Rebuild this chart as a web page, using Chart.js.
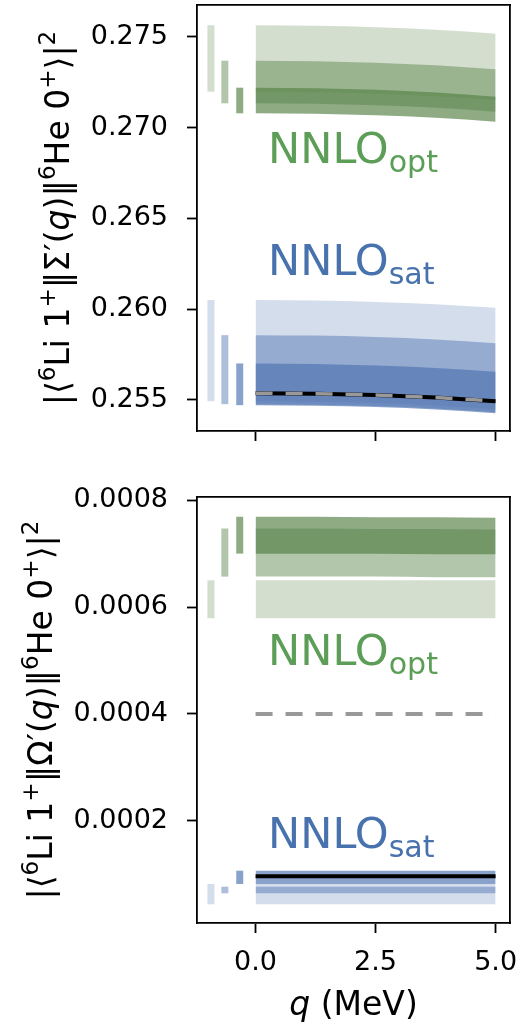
<!DOCTYPE html>
<html>
<head>
<meta charset="utf-8">
<script src="https://cdn.jsdelivr.net/npm/chart.js@4.4.0/dist/chart.umd.min.js"></script>
<style>
  html, body { margin: 0; padding: 0; background: #fff; }
  #wrap { position: relative; width: 517px; height: 1023px; }
  #topChart { position: absolute; left: 0; top: 0; }
  #bottomChart { position: absolute; left: 0; top: 480px; }
</style>
</head>
<body>
<div id="wrap">
  <canvas id="topChart" width="517" height="480"></canvas>
  <canvas id="bottomChart" width="517" height="543"></canvas>
</div>
<script>
// momentum transfer grid and the q=0 summary bars
const qGrid = [0, 1.25, 2.5, 3.75, 5];
const barQ = [-0.93, -0.64, -0.33];
const qTicks = [0, 2.5, 5];
const qTickLabels = ['0.0', '2.5', '5.0'];

// upper panel: Sigma'
const sigTicks = [0.255, 0.260, 0.265, 0.270, 0.275];
const sigTickLabels = ['0.255', '0.260', '0.265', '0.270', '0.275'];
const sigOptHi1 = [0.275645, 0.275617, 0.275535, 0.275397, 0.275182];
const sigOptLo1 = [0.271985, 0.271957, 0.271875, 0.271737, 0.271522];
const sigOptHi2 = [0.273693, 0.273665, 0.273579, 0.273437, 0.273219];
const sigOptLo2 = [0.271345, 0.271317, 0.271234, 0.271095, 0.270882];
const sigOptHi3 = [0.272205, 0.272175, 0.272086, 0.271937, 0.271709];
const sigOptLo3 = [0.270794, 0.270766, 0.270683, 0.270544, 0.270331];
const sigSatHi1 = [0.260502, 0.260477, 0.260400, 0.260273, 0.260078];
const sigSatLo1 = [0.254934, 0.254908, 0.254828, 0.254696, 0.254493];
const sigSatHi2 = [0.258571, 0.258545, 0.258465, 0.258333, 0.258131];
const sigSatLo2 = [0.254768, 0.254742, 0.254662, 0.254530, 0.254327];
const sigSatHi3 = [0.257012, 0.256984, 0.256901, 0.256762, 0.256549];
const sigSatLo3 = [0.254713, 0.254687, 0.254607, 0.254475, 0.254272];
const sigCentral = [0.255375, 0.255349, 0.255269, 0.255137, 0.254934];
const sigOptBarLo = [0.271985, 0.271345, 0.270794];
const sigOptBarHi = [0.275645, 0.273693, 0.272205];
const sigSatBarLo = [0.254934, 0.254768, 0.254713];
const sigSatBarHi = [0.260502, 0.258571, 0.257012];

// lower panel: Omega'
const omTicks = [0.0002, 0.0004, 0.0006, 0.0008];
const omTickLabels = ['0.0002', '0.0004', '0.0006', '0.0008'];
const omOptHi1 = [0.000650, 0.000650, 0.000650, 0.000650, 0.000650];
const omOptLo1 = [0.000579, 0.000579, 0.000579, 0.000579, 0.000579];
const omOptHi2 = [0.000747, 0.000747, 0.000746, 0.000746, 0.000745];
const omOptLo2 = [0.000657, 0.000657, 0.000657, 0.000656, 0.000656];
const omOptHi3 = [0.000769, 0.000769, 0.000768, 0.000768, 0.000767];
const omOptLo3 = [0.000700, 0.000700, 0.000700, 0.000699, 0.000699];
const omSatHi1 = [0.0000816, 0.0000816, 0.0000816, 0.0000816, 0.0000816];
const omSatLo1 = [0.0000436, 0.0000436, 0.0000436, 0.0000436, 0.0000436];
const omSatHi2 = [0.0000765, 0.0000765, 0.0000765, 0.0000765, 0.0000765];
const omSatLo2 = [0.0000642, 0.0000642, 0.0000642, 0.0000642, 0.0000642];
const omSatHi3 = [0.0001065, 0.0001065, 0.0001065, 0.0001065, 0.0001065];
const omSatLo3 = [0.0000816, 0.0000816, 0.0000816, 0.0000816, 0.0000816];
const omCentral = [0.0000960, 0.0000960, 0.0000960, 0.0000960, 0.0000960];
const omReference = [0.0004, 0.0004, 0.0004, 0.0004, 0.0004];
const omOptBarLo = [0.000579, 0.000657, 0.000700];
const omOptBarHi = [0.000650, 0.000747, 0.000769];
const omSatBarLo = [0.0000436, 0.0000642, 0.0000816];
const omSatBarHi = [0.0000816, 0.0000765, 0.0001065];

const FONT = 'DejaVu Sans';
const TICK_SIZE = 27;
const TITLE_SIZE = 33;
const greenShades = ['rgba(84,128,68,0.26)', 'rgba(84,128,68,0.45)', 'rgba(84,128,68,0.66)'];
const blueShades = ['rgba(76,114,176,0.24)', 'rgba(76,114,176,0.46)', 'rgba(76,114,176,0.66)'];
const greenText = 'rgb(92,158,87)';
const blueText = 'rgb(72,114,173)';

function pts(xs, ys) {
    return xs.map((x, i) => ({ x: x, y: ys[i] }));
}

function band(hi, lo, color) {
    return [
        { data: pts(qGrid, hi), fill: '+1', backgroundColor: color, borderColor: 'transparent',
          borderWidth: 0, pointRadius: 0, cubicInterpolationMode: 'monotone' },
        { data: pts(qGrid, lo), fill: false, borderColor: 'transparent',
          borderWidth: 0, pointRadius: 0, cubicInterpolationMode: 'monotone' }
    ];
}

function bars(lo, hi, colors) {
    return barQ.map((q, i) => ({
        data: [{ x: q, y: lo[i] }, { x: q, y: hi[i] }],
        borderColor: colors[i], borderWidth: 7, borderCapStyle: 'butt',
        pointRadius: 0, fill: false
    }));
}

function line(ys, color, width, dash) {
    return { data: pts(qGrid, ys), borderColor: color, borderWidth: width, borderDash: dash || [],
             borderCapStyle: 'butt', pointRadius: 0, fill: false };
}

// paint order: first in list is drawn first
function ordered(list) {
    list.forEach((d, i) => { d.order = list.length - i; });
    return list;
}

// rich text helpers (superscripts, subscripts, italics)
function segFont(seg, size) {
    const s = (seg.sup || seg.sub) ? size * 0.7 : size;
    return (seg.it ? 'italic ' : '') + s + 'px "' + FONT + '"';
}
function richWidth(ctx, segs, size) {
    let w = 0;
    segs.forEach(s => { ctx.font = segFont(s, size); w += ctx.measureText(s.t).width; });
    return w;
}
function drawRich(ctx, segs, x, y, size) {
    segs.forEach(s => {
        ctx.font = segFont(s, size);
        const dy = s.sup ? -size * 0.42 : (s.sub ? size * 0.2 : 0);
        ctx.fillText(s.t, x, y + dy);
        x += ctx.measureText(s.t).width;
    });
}

const sigmaTitle = [{ t: '|⟨' }, { t: '6', sup: 1 }, { t: 'Li 1' }, { t: '+', sup: 1 }, { t: '‖Σ′(' },
    { t: 'q', it: 1 }, { t: ')‖' }, { t: '6', sup: 1 }, { t: 'He 0' }, { t: '+', sup: 1 }, { t: '⟩|' }, { t: '2', sup: 1 }];
const omegaTitle = [{ t: '|⟨' }, { t: '6', sup: 1 }, { t: 'Li 1' }, { t: '+', sup: 1 }, { t: '‖Ω′(' },
    { t: 'q', it: 1 }, { t: ')‖' }, { t: '6', sup: 1 }, { t: 'He 0' }, { t: '+', sup: 1 }, { t: '⟩|' }, { t: '2', sup: 1 }];
const qTitle = [{ t: 'q', it: 1 }, { t: ' (MeV)' }];

const textPlugin = {
    id: 'texts',
    afterDraw(chart, args, opts) {
        const ctx = chart.ctx;
        const area = chart.chartArea;
        ctx.save();
        ctx.textBaseline = 'alphabetic';
        ctx.textAlign = 'left';
        // y axis title, rotated
        ctx.fillStyle = '#000';
        ctx.save();
        ctx.translate(opts.yTitleX, (area.top + area.bottom) / 2);
        ctx.rotate(-Math.PI / 2);
        const w = richWidth(ctx, opts.yTitle, TITLE_SIZE);
        drawRich(ctx, opts.yTitle, -w / 2, 0, TITLE_SIZE);
        ctx.restore();
        // x axis title
        if (opts.xTitle) {
            const wx = richWidth(ctx, opts.xTitle, TITLE_SIZE);
            drawRich(ctx, opts.xTitle, (area.left + area.right) / 2 - wx / 2, opts.xTitleY, TITLE_SIZE);
        }
        // model labels
        const xs = chart.scales.x, ys = chart.scales.y;
        opts.labels.forEach(l => {
            ctx.fillStyle = l.color;
            const px = xs.getPixelForValue(l.x);
            const py = ys.getPixelForValue(l.y);
            drawRich(ctx, [{ t: 'NNLO' }, { t: l.sub, sub: 1 }], px, py, 43);
        });
        ctx.restore();
    }
};

function xAxis(showLabels, height) {
    return {
        type: 'linear', min: -1.22, max: 5.30,
        afterBuildTicks: s => { s.ticks = qTicks.map(v => ({ value: v })); },
        ticks: { display: showLabels, padding: 14, color: '#000', maxRotation: 0, autoSkip: false,
                 font: { family: FONT, size: TICK_SIZE }, callback: (v, i) => qTickLabels[i] },
        grid: { display: true, drawOnChartArea: false, drawTicks: true, tickLength: 10, tickWidth: 1.8, tickColor: '#000' },
        border: { display: true, color: '#000', width: 1.8 },
        afterFit: s => { s.height = height; s.paddingLeft = 0; s.paddingRight = 0; }
    };
}

function yAxis(min, max, ticks, labels) {
    return {
        type: 'linear', min: min, max: max,
        afterBuildTicks: s => { s.ticks = ticks.map(v => ({ value: v })); },
        ticks: { padding: 19, color: '#000', autoSkip: false,
                 font: { family: FONT, size: TICK_SIZE }, callback: (v, i) => labels[i] },
        grid: { display: true, drawOnChartArea: false, drawTicks: true, tickLength: 10, tickWidth: 1.8, tickColor: '#000' },
        border: { display: true, color: '#000', width: 1.8 },
        afterFit: s => { s.width = 197; s.paddingTop = 0; s.paddingBottom = 0; }
    };
}

const frameTop = {
    position: 'top', display: true,
    ticks: { display: false },
    grid: { display: true, drawOnChartArea: false, drawTicks: false },
    border: { display: true, color: '#000', width: 1.8 },
    afterFit: s => { s.height = 0; }
};
const frameRight = {
    position: 'right', display: true,
    ticks: { display: false },
    grid: { display: true, drawOnChartArea: false, drawTicks: false },
    border: { display: true, color: '#000', width: 1.8 },
    afterFit: s => { s.width = 0; }
};

function baseOptions(padTop, xa, ya, textOpts) {
    return {
        responsive: false,
        animation: false,
        layout: { padding: { left: 0, right: 7, top: padTop, bottom: 0 } },
        plugins: { legend: { display: false }, tooltip: { enabled: false }, texts: textOpts },
        scales: { x: xa, y: ya, x2: frameTop, y2: frameRight }
    };
}

// upper panel
const topSets = ordered([].concat(
    band(sigOptHi1, sigOptLo1, greenShades[0]),
    band(sigOptHi2, sigOptLo2, greenShades[1]),
    band(sigOptHi3, sigOptLo3, greenShades[2]),
    band(sigSatHi1, sigSatLo1, blueShades[0]),
    band(sigSatHi2, sigSatLo2, blueShades[1]),
    band(sigSatHi3, sigSatLo3, blueShades[2]),
    bars(sigOptBarLo, sigOptBarHi, greenShades),
    bars(sigSatBarLo, sigSatBarHi, blueShades),
    [line(sigCentral, '#000', 4), line(sigCentral, '#999', 3.5, [17, 13])]
));

new Chart(document.getElementById('topChart'), {
    type: 'line',
    data: { datasets: topSets },
    options: baseOptions(5, xAxis(false, 49), yAxis(0.25329, 0.27676, sigTicks, sigTickLabels), {
        yTitle: sigmaTitle, yTitleX: 69,
        labels: [
            { x: 0.26, y: 0.26805, sub: 'opt', color: greenText },
            { x: 0.26, y: 0.26188, sub: 'sat', color: blueText }
        ]
    }),
    plugins: [textPlugin]
});

// lower panel
const bottomSets = ordered([].concat(
    band(omOptHi1, omOptLo1, greenShades[0]),
    band(omOptHi2, omOptLo2, greenShades[1]),
    band(omOptHi3, omOptLo3, greenShades[2]),
    band(omSatHi1, omSatLo1, blueShades[0]),
    band(omSatHi2, omSatLo2, blueShades[1]),
    band(omSatHi3, omSatLo3, blueShades[2]),
    bars(omOptBarLo, omOptBarHi, greenShades),
    bars(omSatBarLo, omSatBarHi, blueShades),
    [line(omReference, '#999', 4, [17, 13]), line(omCentral, '#000', 4)]
));

new Chart(document.getElementById('bottomChart'), {
    type: 'line',
    data: { datasets: bottomSets },
    options: baseOptions(17, xAxis(true, 100), yAxis(0.0000086, 0.000806, omTicks, omTickLabels), {
        yTitle: omegaTitle, yTitleX: 52,
        xTitle: qTitle, xTitleY: 535,
        labels: [
            { x: 0.26, y: 0.000491, sub: 'opt', color: greenText },
            { x: 0.26, y: 0.000149, sub: 'sat', color: blueText }
        ]
    }),
    plugins: [textPlugin]
});
</script>
</body>
</html>
